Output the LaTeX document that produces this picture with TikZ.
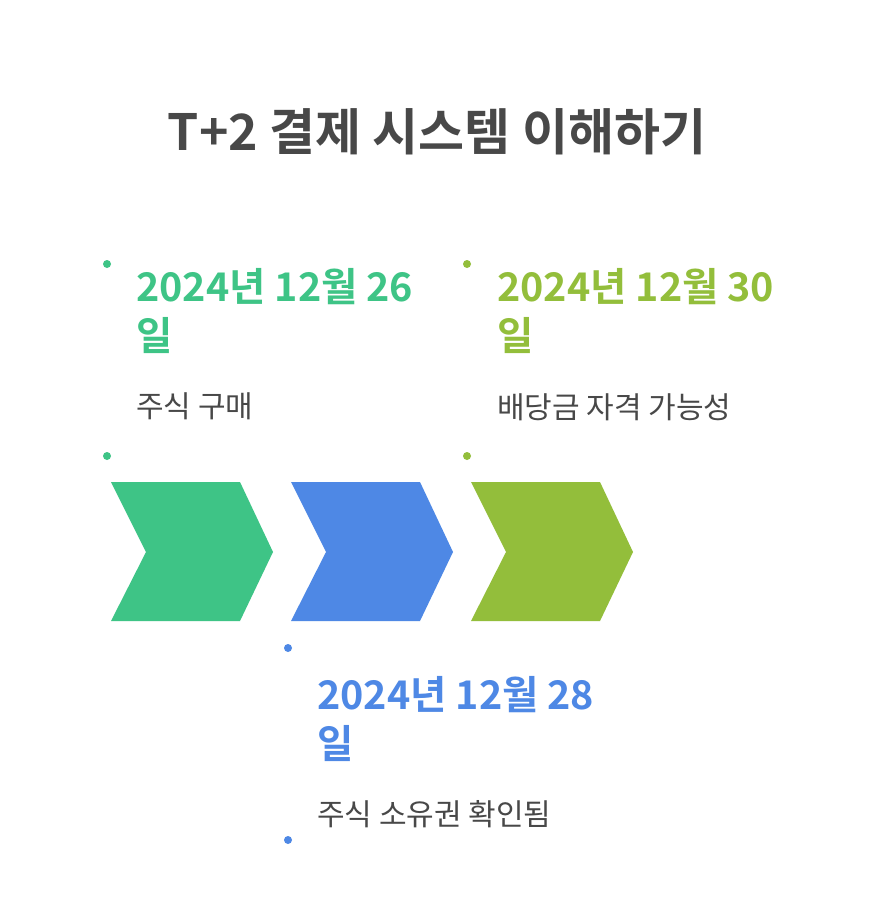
\documentclass[tikz,border=0pt]{standalone}
\usepackage{fontspec}
\setmainfont{Noto Sans CJK KR}
\newfontfamily\krbold{Noto Sans CJK KR Bold}
\definecolor{cgreen}{HTML}{3EC486}
\definecolor{cblue}{HTML}{4E88E5}
\definecolor{colive}{HTML}{93BE3B}
\definecolor{ctext}{HTML}{484848}
\tikzset{
  dot/.style={circle,inner sep=0pt,minimum size=8pt},
  datetxt/.style={anchor=base west,inner sep=0pt,align=left,font=\krbold\fontsize{39.5}{49}\selectfont},
  desctxt/.style={anchor=base west,inner sep=0pt,text=ctext,font=\fontsize{30}{35}\selectfont},
  titletxt/.style={anchor=base,inner sep=0pt,text=ctext,font=\krbold\fontsize{50}{58}\selectfont}
}
\begin{document}
\begin{tikzpicture}[x=1pt,y=-1pt]
\useasboundingbox[fill=white] (0,0) rectangle (876,915);
\node[titletxt] (title) at (437,150) {T+2 결제 시스템 이해하기};
% chevrons
\fill[cgreen] (111,482) -- (240,482) -- (273,552) -- (240,621) -- (111,621) -- (146,552) -- cycle;
\fill[cblue] (291,482) -- (420,482) -- (453,552) -- (420,621) -- (291,621) -- (326,552) -- cycle;
\fill[colive] (471,482) -- (600,482) -- (633,552) -- (600,621) -- (471,621) -- (506,552) -- cycle;
% dots
\node[dot,fill=cgreen] (g1) at (107,264) {};
\node[dot,fill=cgreen] (g2) at (107,456) {};
\node[dot,fill=colive] (o1) at (467,264) {};
\node[dot,fill=colive] (o2) at (467,456) {};
\node[dot,fill=cblue] (b1) at (288,648) {};
\node[dot,fill=cblue] (b2) at (288,840) {};
% texts
\node[datetxt,text=cgreen] (gd) at (136,350) {2024년 12월 26\\일};
\node[desctxt] (gt) at (136,417) {주식 구매};
\node[datetxt,text=colive] (od) at (497,350) {2024년 12월 30\\일};
\node[desctxt] (ot) at (497,418) {배당금 자격 가능성};
\node[datetxt,text=cblue] (bd) at (317,758) {2024년 12월 28\\일};
\node[desctxt] (bt) at (317,825) {주식 소유권 확인됨};
\end{tikzpicture}
\end{document}
